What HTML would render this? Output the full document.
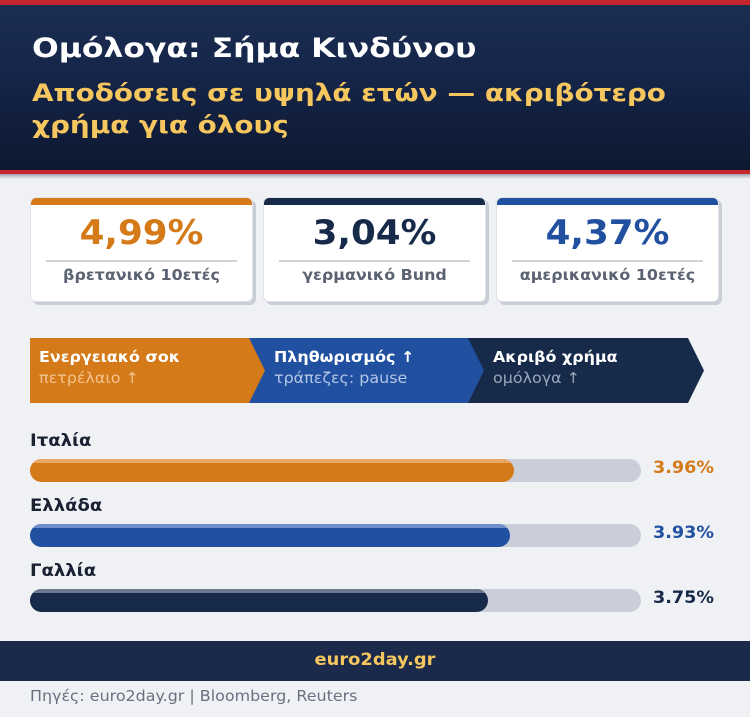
<!DOCTYPE html>
<html><head><meta charset="utf-8">
<style>
*{margin:0;padding:0;box-sizing:border-box}
html,body{width:750px;height:717px;overflow:hidden;background:#eff1f5;font-family:"DejaVu Sans","Liberation Sans","Noto Sans CJK SC",sans-serif}
.abs{position:absolute}
.t{position:absolute;line-height:1;white-space:nowrap;transform:scaleX(1.06);transform-origin:0 0}
#hdr{left:0;top:0;width:750px;height:174px;background:linear-gradient(180deg,#1b2d51 0%,#15264a 40%,#0e1831 100%);border-top:5px solid #c8262d;border-bottom:4px solid #c8262d}
#hshadow{left:0;top:174px;width:750px;height:5px;background:linear-gradient(180deg,#9ea3ad,#eff1f5)}
.card{position:absolute;top:197px;width:223px;height:105px;background:#fff;border-radius:6px;box-shadow:3px 3px 0 #c9cdd5;border:1px solid #e0e3e8;overflow:hidden}
.card .bar{position:absolute;left:0;top:0;width:100%;height:7px}
.card .num{position:absolute;left:0;width:100%;text-align:center;top:18px;font-size:34px;font-weight:bold;line-height:1;transform:scaleX(1.05);transform-origin:50% 0}
.card .div{position:absolute;left:15px;right:15px;top:62px;height:2px;background:#cfd2d8}
.card .lab{position:absolute;left:0;width:100%;text-align:center;top:70px;font-size:15px;font-weight:bold;color:#5b6272;line-height:1;transform:scaleX(1.06);transform-origin:50% 0}
.ct1{font-size:15px;font-weight:bold;color:#fff}
.ct2{font-size:15px}
.lbl{font-size:17px;font-weight:bold;color:#1a2233}
.track{position:absolute;left:30px;width:611px;height:23px;border-radius:11.5px;background:#c9ced8}
.fill{position:absolute;left:0;top:0;height:23px;border-radius:11.5px;overflow:hidden}
.fill i{position:absolute;left:0;top:0;width:100%;height:4px;display:block}
.t.val{font-size:17px;font-weight:bold;transform:scaleX(1.035)}
</style></head><body>
<div id="hdr" class="abs"></div>
<div id="hshadow" class="abs"></div>
<div class="t" style="left:32px;top:35px;font-size:27px;font-weight:bold;color:#fff;transform:scaleX(1.165)">Ομόλογα: Σήμα Κινδύνου</div>
<div class="abs" style="left:32px;top:77px;font-size:24px;line-height:32px;font-weight:bold;color:#f6c65f;white-space:nowrap;transform:scaleX(1.16);transform-origin:0 0">Αποδόσεις σε υψηλά ετών — ακριβότερο<br>χρήμα για όλους</div>

<div class="card" style="left:30px"><div class="bar" style="background:#d47a18"></div><div class="num" style="color:#d47a18">4,99%</div><div class="div"></div><div class="lab">βρετανικό 10ετές</div></div>
<div class="card" style="left:263px"><div class="bar" style="background:#172a4a"></div><div class="num" style="color:#172a4a">3,04%</div><div class="div"></div><div class="lab">γερμανικό Bund</div></div>
<div class="card" style="left:496px"><div class="bar" style="background:#2150a0"></div><div class="num" style="color:#2150a0">4,37%</div><div class="div"></div><div class="lab">αμερικανικό 10ετές</div></div>

<svg class="abs" style="left:0;top:0" width="750" height="717">
<polygon points="468,338 688,338 704,370.5 688,403 468,403" fill="#172a4a"/>
<polygon points="249,338 468,338 484,370.5 468,403 249,403" fill="#2150a0"/>
<polygon points="30,338 249,338 265,370.5 249,403 30,403" fill="#d47a18"/>
</svg>
<div class="t ct1" style="left:39px;top:350px">Ενεργειακό σοκ</div>
<div class="t ct2" style="left:39px;top:371px;color:#f4c48f">πετρέλαιο ↑</div>
<div class="t ct1" style="left:274px;top:350px">Πληθωρισμός ↑</div>
<div class="t ct2" style="left:274px;top:371px;color:#b3c6e8">τράπεζες: pause</div>
<div class="t ct1" style="left:493px;top:350px">Ακριβό χρήμα</div>
<div class="t ct2" style="left:493px;top:371px;color:#9ba6bb">ομόλογα ↑</div>

<div class="t lbl" style="left:30px;top:433px">Ιταλία</div>
<div class="track" style="top:459px"><div class="fill" style="width:484px;background:#d47a18"><i style="background:#e9a766"></i></div></div>
<div class="t val" style="left:653px;top:460px;color:#d47a18">3.96%</div>

<div class="t lbl" style="left:30px;top:498px">Ελλάδα</div>
<div class="track" style="top:524px"><div class="fill" style="width:480px;background:#2150a0"><i style="background:#6d8fca"></i></div></div>
<div class="t val" style="left:653px;top:525px;color:#2150a0">3.93%</div>

<div class="t lbl" style="left:30px;top:563px">Γαλλία</div>
<div class="track" style="top:589px"><div class="fill" style="width:458px;background:#172a4a"><i style="background:#6b7890"></i></div></div>
<div class="t val" style="left:653px;top:590px;color:#172a4a">3.75%</div>

<div class="abs" style="left:0;top:641px;width:750px;height:40px;background:#1b2a4b"></div>
<div class="t" style="left:0;width:750px;text-align:center;top:652px;font-size:17px;font-weight:bold;color:#f6c65f;transform:scaleX(1.05);transform-origin:50% 0">euro2day.gr</div>
<div class="t" style="left:30px;top:689px;font-size:15px;color:#6b7080">Πηγές: euro2day.gr | Bloomberg, Reuters</div>
</body></html>
